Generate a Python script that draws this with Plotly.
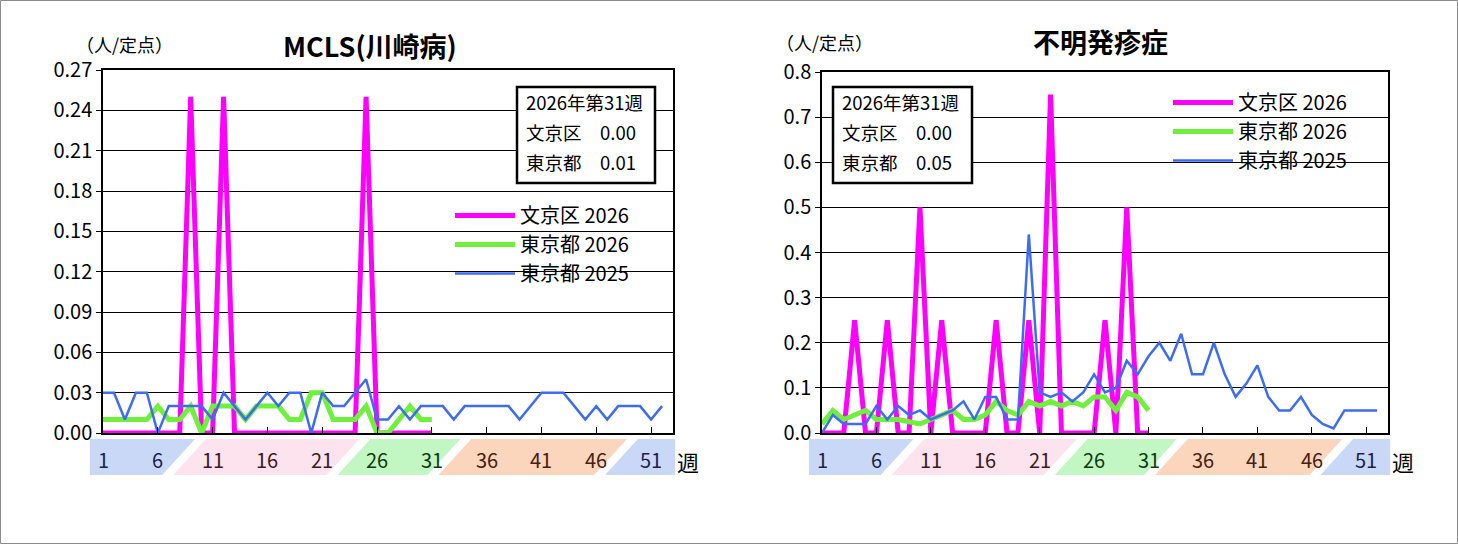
import plotly.graph_objects as go

W, H = 1458, 544

# ---- data ----
weeks_2025 = list(range(1, 53))
weeks_2026 = list(range(1, 32))
week_ticks = [1, 6, 11, 16, 21, 26, 31, 36, 41, 46, 51]

mcls_bunkyo_2026 = [0, 0, 0, 0, 0, 0, 0, 0, 0.25, 0, 0, 0.25, 0, 0, 0, 0, 0, 0, 0, 0,
                    0, 0, 0, 0, 0.25, 0, 0, 0, 0, 0, 0]
mcls_tokyo_2026 = [0.01, 0.01, 0.01, 0.01, 0.01, 0.02, 0.01, 0.01, 0.02, 0.00,
                   0.02, 0.02, 0.02, 0.01, 0.02, 0.02, 0.02, 0.01, 0.01, 0.03,
                   0.03, 0.01, 0.01, 0.01, 0.02, 0.00, 0.00, 0.01, 0.02, 0.01, 0.01]
mcls_tokyo_2025 = [0.03, 0.03, 0.01, 0.03, 0.03, 0.00, 0.02, 0.02, 0.02, 0.02,
                   0.01, 0.03, 0.02, 0.01, 0.02, 0.03, 0.02, 0.03, 0.03, 0.00,
                   0.03, 0.02, 0.02, 0.03, 0.04, 0.01, 0.01, 0.02, 0.01, 0.02,
                   0.02, 0.02, 0.01, 0.02, 0.02, 0.02, 0.02, 0.02, 0.01, 0.02,
                   0.03, 0.03, 0.03, 0.02, 0.01, 0.02, 0.01, 0.02, 0.02, 0.02,
                   0.01, 0.02]

rash_bunkyo_2026 = [0, 0, 0, 0.25, 0, 0, 0.25, 0, 0, 0.5, 0, 0.25, 0, 0, 0, 0, 0.25, 0, 0, 0.25,
                    0, 0.75, 0, 0, 0, 0, 0.25, 0, 0.5, 0, 0]
rash_tokyo_2026 = [0.02, 0.05, 0.03, 0.04, 0.05, 0.03, 0.03, 0.03, 0.025, 0.02,
                   0.03, 0.04, 0.05, 0.03, 0.03, 0.04, 0.07, 0.05, 0.04, 0.07,
                   0.06, 0.07, 0.06, 0.07, 0.06, 0.08, 0.08, 0.05, 0.09, 0.08, 0.05]
rash_tokyo_2025 = [0.00, 0.04, 0.02, 0.02, 0.02, 0.06, 0.03, 0.06, 0.04, 0.05,
                   0.03, 0.04, 0.05, 0.07, 0.03, 0.08, 0.08, 0.03, 0.03, 0.44,
                   0.09, 0.08, 0.09, 0.07, 0.09, 0.13, 0.09, 0.10, 0.16, 0.13,
                   0.17, 0.20, 0.16, 0.22, 0.13, 0.13, 0.20, 0.13, 0.08, 0.11,
                   0.15, 0.08, 0.05, 0.05, 0.08, 0.04, 0.02, 0.01, 0.05, 0.05,
                   0.05, 0.05]

series_names = ['文京区 2026', '東京都 2026', '東京都 2025']
box_lines_left = ['2026年第31週', '文京区　0.00', '東京都　0.01']
box_lines_right = ['2026年第31週', '文京区　0.00', '東京都　0.05']

# season bands under the axis: colour, label colour, bottom-left, top-left, top-right, bottom-right (weeks)
bands = [
    ('#cad8f7', '#1c1f4d', -0.2, -0.2, 9.4, 6.4),
    ('#fde3ee', '#3b1a22', 7.4, 10.4, 24.4, 21.4),
    ('#c2f6c2', '#0d3b10', 22.4, 25.4, 33.6, 30.6),
    ('#fbd6bc', '#45210f', 31.6, 34.6, 48.8, 45.8),
    ('#cad8f7', '#1c1f4d', 46.8, 49.8, 53.2, 53.2),
]

FONT = 'Noto Sans CJK JP'
MAGENTA = '#ff00ff'
GREEN = '#6ef03c'
BLUE = '#3d6cf0'


def px_x(p):
    return p / W


def px_y(p):
    return 1 - p / H


left_dom = [px_x(103), px_x(673)]
right_dom = [px_x(822), px_x(1388)]
y_dom_left = [px_y(433), px_y(70)]
y_dom_right = [px_y(433), px_y(72)]

fig = go.Figure()

styles = [(MAGENTA, 5), (GREEN, 5), (BLUE, 2.5)]
left_series = [(weeks_2026, mcls_bunkyo_2026), (weeks_2026, mcls_tokyo_2026), (weeks_2025, mcls_tokyo_2025)]
right_series = [(weeks_2026, rash_bunkyo_2026), (weeks_2026, rash_tokyo_2026), (weeks_2025, rash_tokyo_2025)]

for i, (xs, ys) in enumerate(left_series):
    fig.add_trace(go.Scatter(x=xs, y=ys, mode='lines', name=series_names[i],
                             line=dict(color=styles[i][0], width=styles[i][1]),
                             xaxis='x', yaxis='y', legend='legend', legendgroup='l%d' % i))
for i, (xs, ys) in enumerate(right_series):
    fig.add_trace(go.Scatter(x=xs, y=ys, mode='lines', name=series_names[i],
                             line=dict(color=styles[i][0], width=styles[i][1]),
                             xaxis='x2', yaxis='y2', legend='legend2', legendgroup='r%d' % i))

xaxis_common = dict(range=[1, 53], tickmode='array', tickvals=week_ticks, ticks='inside',
                    ticklen=6, tickcolor='black', showticklabels=False, showgrid=False,
                    zeroline=False, showline=True, linecolor='black', linewidth=1.5, mirror=True)
yaxis_common = dict(ticks='outside', ticklen=5, tickcolor='black', showgrid=True,
                    gridcolor='black', gridwidth=1, zeroline=False, showline=True,
                    linecolor='black', linewidth=1.5, mirror=True,
                    tickfont=dict(family=FONT, size=20, color='black'))

shapes = []
annotations = []


def text(x, y, s, size, color='black', xanchor='center', xref='paper'):
    annotations.append(dict(x=x, y=y, xref=xref, yref='paper', text=s, showarrow=False,
                            xanchor=xanchor, yanchor='middle',
                            font=dict(family=FONT, size=size, color=color)))


def add_panel(dom, xref, title, title_x, title_y, unit_x, unit_y, box, box_lines):
    def wx(w):
        return dom[0] + (w - 1) / 52 * (dom[1] - dom[0])

    yt, yb = px_y(439), px_y(475)
    for color, lab_color, bl, tl, tr, br in bands:
        path = 'M %f %f L %f %f L %f %f L %f %f Z' % (wx(bl), yb, wx(tl), yt, wx(tr), yt, wx(br), yb)
        shapes.append(dict(type='path', path=path, xref='paper', yref='paper',
                           fillcolor=color, line=dict(width=0), layer='below'))
    for w in week_ticks:
        lab_color = bands[0][1]
        for color, lc, bl, tl, tr, br in bands:
            if (bl + tl) / 2 <= w <= (tr + br) / 2:
                lab_color = lc
        text(w, px_y(459), str(w), 20, lab_color, xref=xref)
    text(dom[1] + px_x(15), px_y(461), '週', 22)
    text(px_x(title_x), px_y(title_y), '<b>%s</b>' % title, 27)
    text(px_x(unit_x), px_y(unit_y), '（人/定点）', 18)
    bx0, by0, bx1, by1 = box
    shapes.append(dict(type='rect', xref='paper', yref='paper', x0=px_x(bx0), x1=px_x(bx1),
                       y0=px_y(by1), y1=px_y(by0), fillcolor='white',
                       line=dict(color='black', width=2.5), layer='above'))
    for k, line in enumerate(box_lines):
        text(px_x(bx0 + 7), px_y(by0 + 15 + k * 30), line, 18.5, xanchor='left')


add_panel(left_dom, 'x', 'MCLS(川崎病)', 370, 45, 124, 44, (517, 87, 655, 183), box_lines_left)
add_panel(right_dom, 'x2', '不明発疹症', 1100, 42, 824, 42, (833, 87, 972, 183), box_lines_right)

# outer frame
shapes.append(dict(type='rect', xref='paper', yref='paper', x0=0.5 / W, x1=1 - 0.5 / W,
                   y0=0.5 / H, y1=1 - 0.5 / H, line=dict(color='#8c8c8c', width=1)))

legend_common = dict(bgcolor='rgba(0,0,0,0)', borderwidth=0, xanchor='left', yanchor='top',
                     font=dict(family=FONT, size=20, color='black'), itemwidth=60,
                     tracegroupgap=5, traceorder='normal')

fig.update_layout(
    template='none',
    width=W, height=H,
    margin=dict(l=0, r=0, t=0, b=0),
    paper_bgcolor='white', plot_bgcolor='white',
    font=dict(family=FONT),
    xaxis=dict(domain=left_dom, anchor='y', **xaxis_common),
    yaxis=dict(domain=y_dom_left, anchor='x', range=[0, 0.27], dtick=0.03, tick0=0,
               tickformat='.2f', **yaxis_common),
    xaxis2=dict(domain=right_dom, anchor='y2', **xaxis_common),
    yaxis2=dict(domain=y_dom_right, anchor='x2', range=[0, 0.8], dtick=0.1, tick0=0,
                tickformat='.1f', **yaxis_common),
    legend=dict(x=px_x(450), y=px_y(196), **legend_common),
    legend2=dict(x=px_x(1168), y=px_y(83), **legend_common),
    shapes=shapes,
    annotations=annotations,
    showlegend=True,
)

fig.write_html('out.html', config={'displayModeBar': False},
               post_script="document.body.style.margin='0px';")
